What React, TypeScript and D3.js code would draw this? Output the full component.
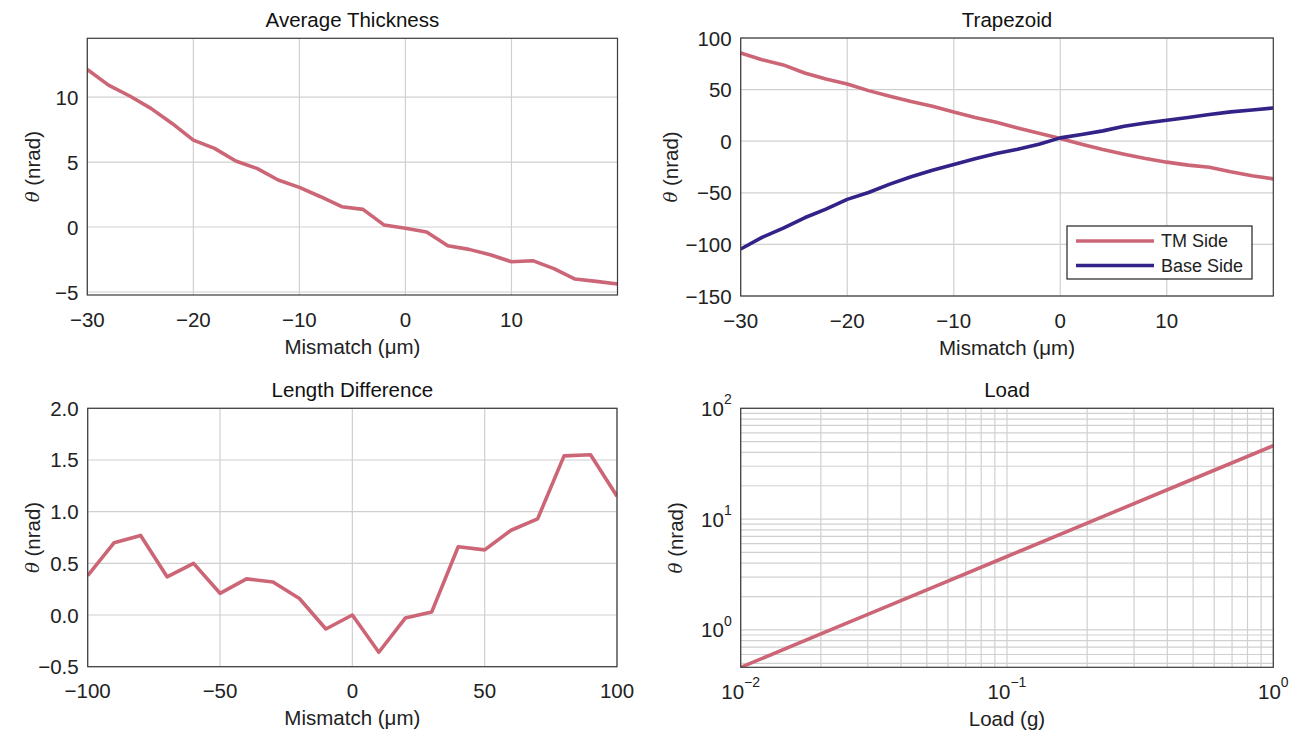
import React from 'react'
import * as d3 from 'd3'

// data
const mismatchFine = [-30, -28, -26, -24, -22, -20, -18, -16, -14, -12, -10, -8, -6, -4, -2, 0, 2, 4, 6, 8, 10, 12, 14, 16, 18, 20]
const avgThickness = [12.13, 10.92, 10.08, 9.13, 7.97, 6.69, 6.05, 5.08, 4.51, 3.62, 3.05, 2.33, 1.56, 1.36, 0.15, -0.1, -0.38, -1.44, -1.72, -2.13, -2.67, -2.59, -3.2, -4.0, -4.18, -4.38]
const tmSide = [85.5, 79.0, 73.9, 66.1, 60.3, 55.5, 49.0, 43.5, 38.4, 33.9, 28.4, 22.9, 18.4, 12.8, 7.6, 2.6, -2.9, -8.1, -12.6, -16.8, -20.3, -23.2, -25.2, -29.7, -33.5, -36.5]
const baseSide = [-104.5, -93.2, -84.2, -74.2, -65.8, -56.4, -49.7, -41.6, -34.5, -28.1, -22.6, -17.1, -11.9, -7.8, -2.9, 3.2, 6.5, 10.0, 14.5, 17.7, 20.3, 22.9, 25.8, 28.4, 30.3, 32.2]

const mismatchCoarse = [-100, -90, -80, -70, -60, -50, -40, -30, -20, -10, 0, 10, 20, 30, 40, 50, 60, 70, 80, 90, 100]
const lengthDiff = [0.38, 0.70, 0.77, 0.37, 0.50, 0.21, 0.35, 0.32, 0.16, -0.135, 0.0, -0.36, -0.03, 0.03, 0.66, 0.63, 0.82, 0.93, 1.54, 1.55, 1.15]

const loadG = [0.01, 0.02, 0.05, 0.1, 0.2, 0.5, 1]
const loadTheta = [0.46, 0.92, 2.3, 4.6, 9.2, 23, 46]

const mismatchTicks = [-30, -20, -10, 0, 10]
const thickTicks = [-5, 0, 5, 10]
const trapTicks = [-150, -100, -50, 0, 50, 100]
const lenXTicks = [-100, -50, 0, 50, 100]
const lenYTicks = [-0.5, 0, 0.5, 1, 1.5, 2]
const loadXTicks = [0.01, 0.1, 1]
const loadYTicks = [1, 10, 100]

const PINK = '#cc6677'
const INDIGO = '#332288'
const GRID = '#d0d0d0'
const FONT = '"Liberation Sans", Arial, sans-serif'
const FS = 20.5

type Series = { xs: number[]; ys: number[]; color: string; name?: string }

const logGrid = (lo: number, hi: number) => {
  const out: number[] = []
  for (let e = Math.floor(Math.log10(lo)); e <= Math.ceil(Math.log10(hi)); e++) {
    for (let m = 1; m <= 9; m++) {
      const v = m * Math.pow(10, e)
      if (v >= lo - 1e-9 && v <= hi + 1e-9) out.push(v)
    }
  }
  return out
}

const Pow = ({ exp }: { exp: number }) => (
  <>
    10<tspan dy={-9} fontSize={14}>{exp < 0 ? '\u2212' + Math.abs(exp) : exp}</tspan>
  </>
)

const Panel = (p: {
  left: number; top: number; right: number; bottom: number
  x: any; y: any
  xTicks: number[]; yTicks: number[]
  xGrid: number[]; yGrid: number[]
  xFmt?: (v: number) => string; yFmt?: (v: number) => string
  log?: boolean
  title: string; xLabel: string; yLabelX: number
  series: Series[]; legend?: boolean
}) => {
  const { left, top, right, bottom, x, y } = p
  const line = (s: Series) =>
    d3.line<number>().x((_, i) => x(s.xs[i])).y((d) => y(d))(s.ys) || ''
  const clipId = 'clip' + Math.round(left) + '_' + Math.round(top)
  const midX = (left + right) / 2
  const midY = (top + bottom) / 2
  return (
    <g fontFamily={FONT} fontSize={FS} fill="#222">
      <defs>
        <clipPath id={clipId}>
          <rect x={left} y={top} width={right - left} height={bottom - top} />
        </clipPath>
      </defs>
      <rect x={left} y={top} width={right - left} height={bottom - top} fill="#fff" />
      {p.xGrid.map((v) => (
        <line key={'gx' + v} x1={x(v)} x2={x(v)} y1={top} y2={bottom} stroke={GRID} strokeWidth={1.2} />
      ))}
      {p.yGrid.map((v) => (
        <line key={'gy' + v} x1={left} x2={right} y1={y(v)} y2={y(v)} stroke={GRID} strokeWidth={1.2} />
      ))}
      <g clipPath={`url(#${clipId})`}>
        {p.series.map((s, i) => (
          <path key={i} d={line(s)} fill="none" stroke={s.color} strokeWidth={3.6} strokeLinejoin="round" />
        ))}
      </g>
      <rect x={left} y={top} width={right - left} height={bottom - top} fill="none" stroke="#3a3a3a" strokeWidth={1.2} />
      {p.xTicks.map((v) => (
        <text key={'tx' + v} x={x(v)} y={bottom + 24} textAnchor="middle" dominantBaseline="central">
          {p.log ? <Pow exp={Math.round(Math.log10(v))} /> : p.xFmt!(v)}
        </text>
      ))}
      {p.yTicks.map((v) => (
        <text key={'ty' + v} x={left - 9} y={y(v)} textAnchor="end" dominantBaseline="central">
          {p.log ? <Pow exp={Math.round(Math.log10(v))} /> : p.yFmt!(v)}
        </text>
      ))}
      <text x={midX} y={top - 19} textAnchor="middle" dominantBaseline="central" fill="#111">{p.title}</text>
      <text x={midX} y={bottom + 51} textAnchor="middle" dominantBaseline="central">{p.xLabel}</text>
      <text transform={`translate(${p.yLabelX},${midY}) rotate(-90)`} textAnchor="middle" dominantBaseline="central">
        <tspan fontStyle="italic" fontFamily='"DejaVu Serif", serif' fontSize={18}>θ</tspan> (nrad)
      </text>
      {p.legend && (
        <g>
          <rect x={1067} y={226} width={185} height={53} fill="#fff" stroke="#222" strokeWidth={1.2} />
          {p.series.map((s, i) => (
            <g key={'lg' + i}>
              <line x1={1076} x2={1154} y1={241 + i * 24.5} y2={241 + i * 24.5} stroke={s.color} strokeWidth={3.6} />
              <text x={1161} y={241 + i * 24.5} dominantBaseline="central" fontSize={18}>{s.name}</text>
            </g>
          ))}
        </g>
      )}
    </g>
  )
}

const fmtInt = d3.format('d')
const fmt1 = d3.format('.1f')

export default function App() {
  // panel 1
  const x1 = d3.scaleLinear().domain([-30, 20]).range([87.3, 617.5])
  const y1 = d3.scaleLinear().domain([-5.23, 14.52]).range([295, 38.3])
  // panel 2
  const x2 = d3.scaleLinear().domain([-30, 20]).range([740.7, 1273.3])
  const y2 = d3.scaleLinear().domain([-150, 100]).range([296, 38])
  // panel 3
  const x3 = d3.scaleLinear().domain([-100, 100]).range([87.7, 617])
  const y3 = d3.scaleLinear().domain([-0.5, 2]).range([666.7, 408.3])
  // panel 4
  const x4 = d3.scaleLog().domain([0.01, 1]).range([740.7, 1273.3])
  const y4 = d3.scaleLog().domain([0.46, 100]).range([667.3, 408.3])

  return (
    <svg width={1299} height={738} style={{ position: 'absolute', left: 0, top: 0, background: '#fff' }}>
      <rect width={1299} height={738} fill="#fff" />
      <Panel left={87.3} top={38.3} right={617.5} bottom={295} x={x1} y={y1}
        xTicks={mismatchTicks} yTicks={thickTicks} xGrid={mismatchTicks} yGrid={thickTicks}
        xFmt={fmtInt} yFmt={fmtInt} title="Average Thickness" xLabel="Mismatch (μm)" yLabelX={32}
        series={[{ xs: mismatchFine, ys: avgThickness, color: PINK }]} />
      <Panel left={740.7} top={38} right={1273.3} bottom={296} x={x2} y={y2}
        xTicks={mismatchTicks} yTicks={trapTicks} xGrid={mismatchTicks} yGrid={trapTicks}
        xFmt={fmtInt} yFmt={fmtInt} title="Trapezoid" xLabel="Mismatch (μm)" yLabelX={670}
        series={[
          { xs: mismatchFine, ys: tmSide, color: PINK, name: 'TM Side' },
          { xs: mismatchFine, ys: baseSide, color: INDIGO, name: 'Base Side' },
        ]} legend />
      <Panel left={87.7} top={408.3} right={617} bottom={666.7} x={x3} y={y3}
        xTicks={lenXTicks} yTicks={lenYTicks} xGrid={lenXTicks} yGrid={lenYTicks}
        xFmt={fmtInt} yFmt={fmt1} title="Length Difference" xLabel="Mismatch (μm)" yLabelX={32}
        series={[{ xs: mismatchCoarse, ys: lengthDiff, color: PINK }]} />
      <Panel left={740.7} top={408.3} right={1273.3} bottom={667.3} x={x4} y={y4}
        xTicks={loadXTicks} yTicks={loadYTicks} xGrid={logGrid(0.01, 1)} yGrid={logGrid(0.46, 100)}
        log title="Load" xLabel="Load (g)" yLabelX={675}
        series={[{ xs: loadG, ys: loadTheta, color: PINK }]} />
    </svg>
  )
}
